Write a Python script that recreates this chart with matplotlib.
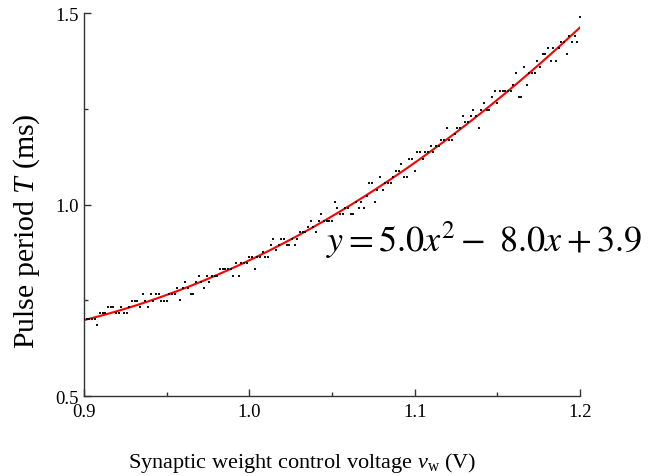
import numpy as np
import matplotlib
matplotlib.use("Agg")
import matplotlib.pyplot as plt
from matplotlib.ticker import MultipleLocator

# measured pulse period (ms), evenly spaced control voltages 0.9..1.2 V
period_ms = [
    0.701, 0.701, 0.701, 0.701, 0.701, 0.685, 0.717, 0.717, 0.717, 0.733,
    0.733, 0.733, 0.717, 0.717, 0.733, 0.717, 0.717, 0.733, 0.749, 0.749,
    0.749, 0.733, 0.766, 0.749, 0.733, 0.766, 0.749, 0.766, 0.766, 0.749,
    0.749, 0.749, 0.766, 0.766, 0.766, 0.782, 0.750, 0.782, 0.797, 0.782,
    0.766, 0.766, 0.797, 0.813, 0.797, 0.782, 0.813, 0.797, 0.813, 0.813,
    0.813, 0.831, 0.831, 0.831, 0.831, 0.831, 0.813, 0.846, 0.813, 0.846,
    0.846, 0.846, 0.862, 0.862, 0.831, 0.862, 0.862, 0.877, 0.862, 0.862,
    0.893, 0.910, 0.880, 0.893, 0.910, 0.910, 0.893, 0.893, 0.910, 0.893,
    0.910, 0.927, 0.927, 0.927, 0.942, 0.958, 0.942, 0.927, 0.958, 0.974,
    0.958, 0.958, 0.958, 0.958, 1.007, 0.991, 0.975, 0.975, 0.991, 0.991,
    0.975, 0.975, 1.007, 0.991, 1.007, 0.991, 1.023, 1.056, 1.056, 1.007,
    1.039, 1.071, 1.039, 1.056, 1.056, 1.056, 1.071, 1.087, 1.087, 1.105,
    1.071, 1.071, 1.119, 1.119, 1.087, 1.136, 1.136, 1.120, 1.136, 1.136,
    1.152, 1.136, 1.152, 1.152, 1.169, 1.169, 1.199, 1.169, 1.169, 1.184,
    1.199, 1.199, 1.232, 1.216, 1.216, 1.232, 1.247, 1.232, 1.199, 1.247,
    1.264, 1.247, 1.247, 1.280, 1.296, 1.264, 1.297, 1.297, 1.297, 1.297,
    1.297, 1.312, 1.343, 1.280, 1.280, 1.360, 1.312, 1.343, 1.343, 1.343,
    1.376, 1.360, 1.393, 1.393, 1.408, 1.376, 1.408, 1.376, 1.408, 1.424,
    1.424, 1.393, 1.441, 1.424, 1.441, 1.424, 1.489,
]
v_start, v_end = 0.9, 1.2
voltage = np.linspace(v_start, v_end, len(period_ms))

x_ticks = [0.9, 1.0, 1.1, 1.2]
y_ticks = [0.5, 1.0, 1.5]
x_label_text = "Synaptic weight control voltage $\\it{v}_{\\rm w}$ (V)"
y_label_text = "Pulse period $\\it{T}$ (ms)"
equation_text = r"$y = 5.0x^2 -\ 8.0x + 3.9$"

plt.rcParams["font.family"] = ["Liberation Serif", "DejaVu Serif"]
plt.rcParams["mathtext.fontset"] = "custom"
plt.rcParams["mathtext.rm"] = "Liberation Serif"
plt.rcParams["mathtext.it"] = "Liberation Serif:italic"

fig = plt.figure(figsize=(6.49, 4.77), dpi=100)
ax = fig.add_axes([0.1294, 0.1677, 0.7643, 0.8029])

coef = np.polyfit(voltage, period_ms, 2)
xf = np.linspace(v_start, v_end, 300)
ax.plot(xf, np.polyval(coef, xf), color="#ff0000", lw=1.5, zorder=2)
ax.scatter(voltage, period_ms, s=3.0, marker="s", color="#111111",
           linewidths=0, zorder=3)

ax.set_xlim(v_start, v_end)
ax.set_ylim(0.5, 1.5)
ax.set_xticks(x_ticks)
ax.set_xticklabels([f"{t:.1f}" for t in x_ticks])
ax.set_yticks(y_ticks)
ax.set_yticklabels([f"{t:.1f}" for t in y_ticks])
ax.xaxis.set_minor_locator(MultipleLocator(0.05))
ax.yaxis.set_minor_locator(MultipleLocator(0.25))
ax.tick_params(which="both", direction="in", labelsize=13.5, color="#333333")
ax.tick_params(which="major", length=5, width=1)
ax.tick_params(which="minor", length=3, width=1)
ax.tick_params(axis="x", pad=5)
ax.tick_params(axis="y", pad=4)
for s in ["top", "right"]:
    ax.spines[s].set_visible(False)
for s in ["left", "bottom"]:
    ax.spines[s].set_color("#333333")
    ax.spines[s].set_linewidth(1.0)

ax.set_xlabel(x_label_text, fontsize=16)
ax.xaxis.set_label_coords(0.44, -0.14)
ax.set_ylabel(y_label_text, fontsize=21.5)
ax.yaxis.set_label_coords(-0.085, 0.433)

fig.text(0.503, 0.497, equation_text, fontsize=26, math_fontfamily="stix",
         ha="left", va="center")

fig.savefig("out.png", dpi=100)
